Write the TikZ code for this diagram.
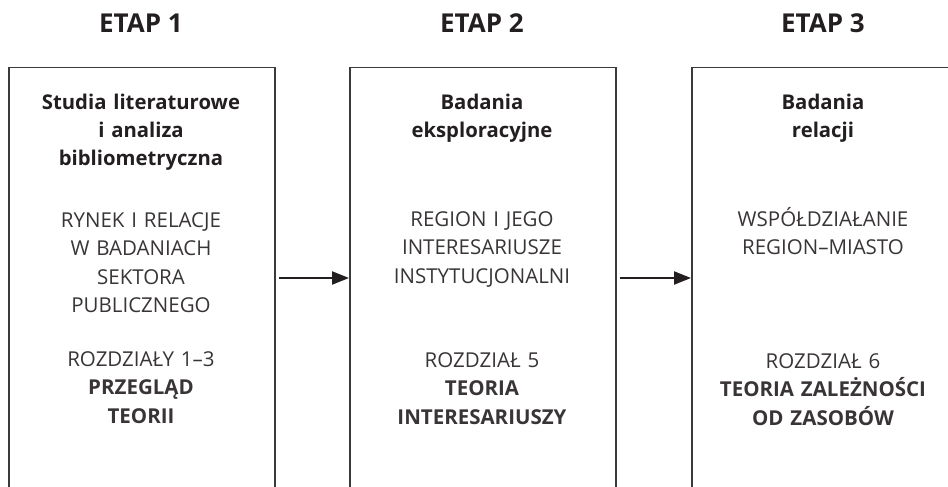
\documentclass[tikz,border=0pt]{standalone}
\usepackage{fontspec}
\setmainfont{Open Sans}
\usetikzlibrary{arrows.meta}
\definecolor{ink}{HTML}{231F20}
\definecolor{frame}{HTML}{3A3A3A}
\tikzset{
  stagebox/.style={draw=frame, line width=1.5pt, anchor=north west, minimum width=266pt, minimum height=470pt, inner sep=0pt},
  etap/.style={anchor=base, inner sep=0pt, text=ink, font=\fontsize{26}{28}\selectfont\bfseries},
  titletxt/.style={anchor=base, inner sep=0pt, text=ink, text width=262pt, align=center, font=\fontsize{20.3}{27.5}\selectfont\bfseries},
  bodytxt/.style={anchor=base, inner sep=0pt, text=ink!90, text width=262pt, align=center, font=\fontsize{20.5}{28.5}\selectfont},
  flow/.style={draw=ink, line width=2.2pt, -{Triangle[length=17pt,width=13pt]}, shorten <=3pt}
}
\begin{document}
\begin{tikzpicture}[x=1pt,y=-1pt]
\clip (0,0) rectangle (948,487);
\useasboundingbox (0,0) rectangle (948,487);
% boxes
\node[stagebox] (s1) at (8,67) {};
\node[stagebox] (s2) at (349,67) {};
\node[stagebox] (s3) at (691,67) {};
% headings
\node[etap] (e1) at (141,33) {ETAP 1};
\node[etap] (e2) at (482,33) {ETAP 2};
\node[etap] (e3) at (823,33) {ETAP 3};
% stage 1
\node[titletxt] (t1) at (141,110) {Studia literaturowe\\i analiza\\bibliometryczna};
\node[bodytxt] (m1) at (141,227) {RYNEK I RELACJE\\W BADANIACH\\SEKTORA\\PUBLICZNEGO};
\node[bodytxt] (c1) at (141,366) {ROZDZIAŁY 1–3\\\textbf{PRZEGLĄD}\\\textbf{TEORII}};
% stage 2
\node[titletxt] (t2) at (482,110) {Badania\\eksploracyjne};
\node[bodytxt] (m2) at (482,226) {REGION I JEGO\\INTERESARIUSZE\\INSTYTUCJONALNI};
\node[bodytxt] (c2) at (482,367) {ROZDZIAŁ 5\\\textbf{TEORIA}\\\textbf{INTERESARIUSZY}};
% stage 3
\node[titletxt] (t3) at (823,110) {Badania\\relacji};
\node[bodytxt] (m3) at (823,226) {WSPÓŁDZIAŁANIE\\REGION–MIASTO};
\node[bodytxt] (c3) at (823,368) {ROZDZIAŁ 6\\\textbf{TEORIA ZALEŻNOŚCI}\\\textbf{OD ZASOBÓW}};
% arrows
\draw[flow] (s1.east |- 0,278) -- (s2.west |- 0,278);
\draw[flow] (s2.east |- 0,278) -- (s3.west |- 0,278);
\end{tikzpicture}
\end{document}
